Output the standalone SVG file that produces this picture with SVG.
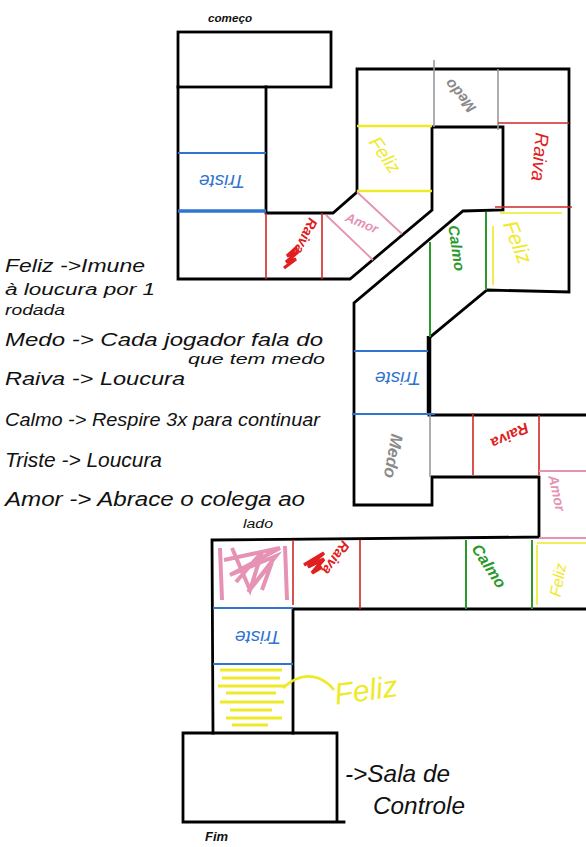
<svg xmlns="http://www.w3.org/2000/svg" width="586" height="847" viewBox="0 0 586 847">
<style>
  .ol{fill:none;stroke:#000;stroke-width:2.8;stroke-linejoin:miter;stroke-linecap:square}
  .thick{fill:none;stroke:#000;stroke-width:4.5}
  .blue{stroke:#2f74d0;stroke-width:2.2;fill:none}
  .red{stroke:#d02828;stroke-width:1.6;fill:none}
  .pink{stroke:#e592b4;stroke-width:1.8;fill:none}
  .yel{stroke:#eeea2a;stroke-width:2.6;fill:none}
  .gray{stroke:#9a9a9a;stroke-width:1.6;fill:none}
  .green{stroke:#2a9a2a;stroke-width:2;fill:none}
  .lbl{font-family:"Liberation Sans","DejaVu Sans",sans-serif;font-style:italic;text-anchor:middle;dominant-baseline:central}
  .hw{font-family:"Liberation Sans","DejaVu Sans",sans-serif;font-style:italic;fill:#111}
</style>

<!-- board outline -->
<g id="board">
  <rect class="ol" x="178" y="32" width="153" height="55"/>
  <path class="ol" d="M178,87 L178,279 L350,279 L432,210 L432,127 L503,127 L503,210 L463,211 L354,303 L354,505 L432,505 L432,477 L539,477 L539,537 L212,540 L213,733"/>
  <path class="ol" d="M266,87 L266,213 L333,213 L357,192 L357,69 L569,69 L569,292 L487,290 L429,338"/>
  <path class="thick" d="M429,336 L429,415"/>
  <path class="ol" d="M429,415 L586,415"/>
  <path class="ol" d="M293,733 L293,609 L586,609"/>
  <path class="ol" d="M183,733 L337,733 L337,822 M183,733 L183,822 L344,822"/>
</g>

<!-- cells -->
<g id="cell-triste-1">
  <path class="blue" d="M178,153 L266,153"/>
  <path class="blue" style="stroke-width:3.4" d="M178,211 L266,211"/>
  <text class="lbl" transform="translate(222,181) rotate(180)" font-size="19" fill="#2f74d0">Triste</text>
</g>
<g id="cell-raiva-1">
  <path class="red" d="M266,213 L266,279 M322,213 L322,279"/>
  <text class="lbl" transform="translate(306,236) rotate(115)" font-size="14" fill="#e02020" font-weight="bold">Raiva</text>
  <path d="M284,268 l12,-9 l-10,3 l12,-10 l-11,4 l10,-9" stroke="#e02020" stroke-width="3.2" fill="none"/>
</g>
<g id="cell-amor-1">
  <path class="pink" d="M326,215 L373,260 M357,192 L402,234"/>
  <text class="lbl" transform="translate(362,223) rotate(22)" font-size="13" fill="#e592b4" font-weight="bold">Amor</text>
</g>
<g id="cell-feliz-1">
  <path class="yel" d="M357,126 L432,126 M357,191 L432,191"/>
  <text class="lbl" transform="translate(385,155) rotate(55)" font-size="19" fill="#eeea2a">Feliz</text>
</g>
<g id="cell-medo-1">
  <path class="gray" d="M434,60 L434,127 M498,69 L498,130"/>
  <text class="lbl" transform="translate(460,96) rotate(-130)" font-size="15" fill="#8a8a8a" font-weight="bold">Medo</text>
</g>
<g id="cell-raiva-2">
  <path class="red" d="M498,123 L569,123 M495,207 L572,207"/>
  <text class="lbl" transform="translate(540,157) rotate(95)" font-size="19" fill="#e02020">Raiva</text>
</g>
<g id="cell-calmo-1">
  <path class="green" d="M430,242 L430,337 M486,212 L486,290"/>
  <text class="lbl" transform="translate(457,248) rotate(82)" font-size="15" fill="#2a9a2a" font-weight="bold">Calmo</text>
</g>
<g id="cell-feliz-2">
  <path class="yel" style="stroke-width:1.6" d="M493,226 L493,285 M500,213 L562,213"/>
  <text class="lbl" transform="translate(518,242) rotate(68)" font-size="21" fill="#eeea2a">Feliz</text>
</g>
<g id="cell-triste-2">
  <path class="blue" d="M354,351 L428,351 M352,414 L435,414"/>
  <text class="lbl" transform="translate(398,378) rotate(180)" font-size="19" fill="#2f74d0">Triste</text>
</g>
<g id="cell-medo-2">
  <path class="gray" d="M430,415 L430,477"/>
  <text class="lbl" transform="translate(393,456) rotate(100)" font-size="17" fill="#8a8a8a" font-weight="bold">Medo</text>
</g>
<g id="cell-raiva-3">
  <path class="red" d="M473,413 L473,475 M539,415 L539,475"/>
  <text class="lbl" transform="translate(510,436) rotate(155)" font-size="15" fill="#e02020" font-weight="bold">Raiva</text>
</g>
<g id="cell-amor-2">
  <path class="pink" d="M539,471 L586,471 M539,538 L586,538"/>
  <text class="lbl" transform="translate(557,493) rotate(78)" font-size="14" fill="#e592b4" font-weight="bold">Amor</text>
</g>
<g id="cell-amor-3">
  <path class="pink" style="stroke-width:4" d="M220,548 L222,600 M285,546 L287,600 M224,560 L280,548 L230,575 L276,556 L248,592 L272,562 L262,590 M232,548 L250,590 L262,552 L236,582"/>
</g>
<g id="cell-raiva-4">
  <path class="red" d="M293,540 L293,605 M360,540 L360,609"/>
  <text class="lbl" transform="translate(336,558) rotate(125)" font-size="14" fill="#e02020" font-weight="bold">Raiva</text>
  <path d="M304,565 l20,-12 l-16,14 l16,-8 l-12,14 l10,-6" stroke="#e02020" stroke-width="3.5" fill="none"/>
</g>
<g id="cell-vazia">
</g>
<g id="cell-calmo-2">
  <path class="green" d="M466,540 L466,609 M532,540 L532,609"/>
  <text class="lbl" transform="translate(489,566) rotate(57)" font-size="16" fill="#2a9a2a" font-weight="bold">Calmo</text>
</g>
<g id="cell-feliz-3">
  <path class="yel" style="stroke-width:1.6" d="M537,545 L537,605 M537,543 L586,543"/>
  <text class="lbl" transform="translate(558,580) rotate(-80)" font-size="16" fill="#eeea2a">Feliz</text>
</g>
<g id="cell-triste-3">
  <path class="blue" d="M213,608 L293,608 M213,664 L293,664"/>
  <text class="lbl" transform="translate(258,637) rotate(180)" font-size="19" fill="#2f74d0">Triste</text>
</g>
<g id="cell-feliz-4">
  <path class="yel" style="stroke-width:3.2" d="M220,670 L282,670 M222,678 L280,678 M218,686 L286,686 M226,693 L276,693 M220,702 L284,702 M230,710 L272,710 M226,718 L282,718 M232,725 L268,725"/>
  <text class="lbl" transform="translate(366,690) rotate(-8)" font-size="30" fill="#eeea2a">Feliz</text>
</g>
<g id="start">
  <text class="hw" x="208" y="22" font-size="11" font-weight="bold" textLength="44" lengthAdjust="spacingAndGlyphs">começo</text>
</g>
<g id="end">
  <text class="hw" x="205" y="841" font-size="13" font-weight="bold">Fim</text>
</g>
<g id="sala-de-controle">
  <text class="hw" x="345" y="782" font-size="24" textLength="105" lengthAdjust="spacingAndGlyphs">-&gt;Sala de</text>
  <text class="hw" x="373" y="814" font-size="24" textLength="92" lengthAdjust="spacingAndGlyphs">Controle</text>
</g>

<!-- connectors -->
<g id="connectors">
  <path class="yel" d="M283,688 Q300,672 318,678 Q328,682 334,690"/>
</g>

<!-- legend -->
<g id="legend">
  <text class="hw" x="5" y="272" font-size="19" textLength="140" lengthAdjust="spacingAndGlyphs">Feliz -&gt;Imune</text>
  <text class="hw" x="5" y="295" font-size="16" textLength="150" lengthAdjust="spacingAndGlyphs">à loucura por 1</text>
  <text class="hw" x="5" y="315" font-size="14" textLength="60" lengthAdjust="spacingAndGlyphs">rodada</text>
  <text class="hw" x="5" y="346" font-size="18" textLength="318" lengthAdjust="spacingAndGlyphs">Medo -&gt; Cada jogador fala do</text>
  <text class="hw" x="188" y="364" font-size="14" textLength="137" lengthAdjust="spacingAndGlyphs">que tem medo</text>
  <text class="hw" x="5" y="385" font-size="18" textLength="180" lengthAdjust="spacingAndGlyphs">Raiva -&gt; Loucura</text>
  <text class="hw" x="5" y="426" font-size="18" textLength="315" lengthAdjust="spacingAndGlyphs">Calmo -&gt; Respire 3x para continuar</text>
  <text class="hw" x="5" y="467" font-size="21" textLength="157" lengthAdjust="spacingAndGlyphs">Triste -&gt; Loucura</text>
  <text class="hw" x="5" y="506" font-size="20" textLength="300" lengthAdjust="spacingAndGlyphs">Amor -&gt; Abrace o colega ao</text>
  <text class="hw" x="243" y="528" font-size="12" textLength="30" lengthAdjust="spacingAndGlyphs">lado</text>
</g>
</svg>
